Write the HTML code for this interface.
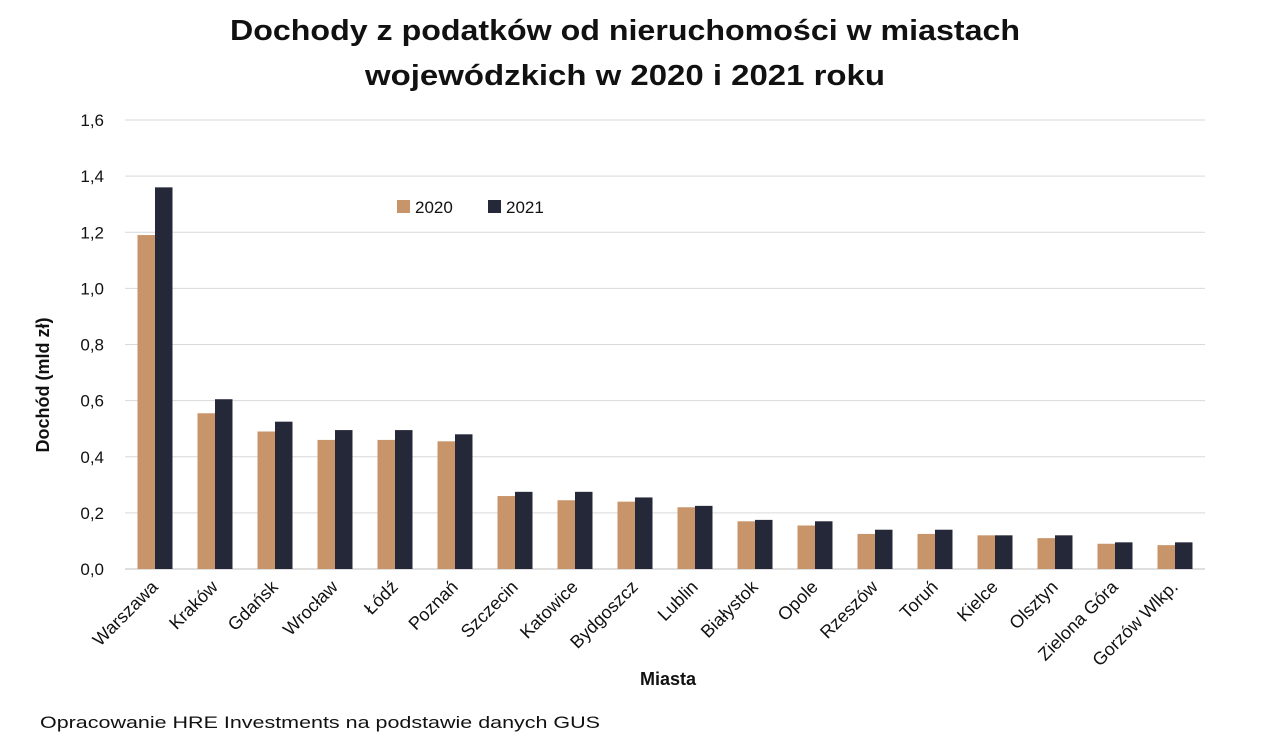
<!DOCTYPE html>
<html><head><meta charset="utf-8"><style>
html,body{margin:0;padding:0;background:#fff;}
svg{display:block;font-family:"Liberation Sans",sans-serif;}
</style></head><body>
<svg id="chart" width="1262" height="750">
<text x="230" y="40" textLength="790" lengthAdjust="spacingAndGlyphs" font-size="29" font-weight="bold" fill="#111">Dochody z podatków od nieruchomości w miastach</text>
<text x="365" y="85" textLength="520" lengthAdjust="spacingAndGlyphs" font-size="29" font-weight="bold" fill="#111">wojewódzkich w 2020 i 2021 roku</text>
<text transform="translate(49,385) rotate(-90)" text-anchor="middle" font-size="18" font-weight="bold" fill="#111">Dochód (mld zł)</text>
<text x="668" y="685" text-anchor="middle" font-size="18" font-weight="bold" fill="#111">Miasta</text>
<text x="40" y="728" textLength="560" lengthAdjust="spacingAndGlyphs" font-size="17" fill="#111">Opracowanie HRE Investments na podstawie danych GUS</text>
<g>
<rect x="397" y="200" width="13" height="13" fill="#C8956A"/>
<text x="415" y="213" font-size="17" fill="#111">2020</text>
<rect x="488" y="200" width="13" height="13" fill="#252839"/>
<text x="506" y="213" font-size="17" fill="#111">2021</text>
</g>
<g id="grid"></g><g id="bars"></g><g id="labels"></g>
</svg>
<script>
const categories=["Warszawa","Kraków","Gdańsk","Wrocław","Łódź","Poznań","Szczecin","Katowice","Bydgoszcz","Lublin","Białystok","Opole","Rzeszów","Toruń","Kielce","Olsztyn","Zielona Góra","Gorzów Wlkp."];
const values2020=[1.19,0.555,0.49,0.46,0.46,0.455,0.26,0.245,0.24,0.22,0.17,0.155,0.125,0.125,0.12,0.11,0.09,0.085];
const values2021=[1.36,0.605,0.525,0.495,0.495,0.48,0.275,0.275,0.255,0.225,0.175,0.17,0.14,0.14,0.12,0.12,0.095,0.095];
const yTicks=[0,0.2,0.4,0.6,0.8,1.0,1.2,1.4,1.6];
const yTickLabels=["0,0","0,2","0,4","0,6","0,8","1,0","1,2","1,4","1,6"];
const NS="http://www.w3.org/2000/svg";
const X0=125,X1=1205,Y0=569,Y1=120,YMAX=1.6;
const y=v=>Y0-(v/YMAX)*(Y0-Y1);
const band=(X1-X0)/categories.length;
const xc=i=>X0+band*(i+0.5);
const grid=document.getElementById('grid'),bars=document.getElementById('bars'),labels=document.getElementById('labels');
yTicks.forEach((t,i)=>{
  const l=document.createElementNS(NS,'line');
  l.setAttribute('x1',X0);l.setAttribute('x2',X1);l.setAttribute('y1',y(t));l.setAttribute('y2',y(t));
  l.setAttribute('stroke',i===0?'#bfbfbf':'#d9d9d9');l.setAttribute('stroke-width','1');
  
  
  grid.appendChild(l);
  const tx=document.createElementNS(NS,'text');
  tx.setAttribute('x',104);tx.setAttribute('y',y(t)+6);tx.setAttribute('text-anchor','end');
  tx.setAttribute('font-size','17');tx.setAttribute('fill','#111');
  tx.textContent=yTickLabels[i];
  
  
  grid.appendChild(tx);
});
const bw=17.5;
categories.forEach((c,i)=>{
  [[values2020,'#C8956A',-bw,'bar-2020'],[values2021,'#252839',0,'bar-2021']].forEach(s=>{
    const r=document.createElementNS(NS,'rect');
    const v=s[0][i];
    r.setAttribute('x',xc(i)+s[2]);r.setAttribute('width',bw);
    r.setAttribute('y',y(v));r.setAttribute('height',Y0-y(v));r.setAttribute('fill',s[1]);
    
    
    bars.appendChild(r);
  });
  const t=document.createElementNS(NS,'text');
  t.setAttribute('transform','translate('+(xc(i)+4)+',588) rotate(-45)');
  t.setAttribute('text-anchor','end');t.setAttribute('font-size','18');t.setAttribute('fill','#111');
  t.textContent=c;
  
  
  labels.appendChild(t);
});
</script>
</body></html>
